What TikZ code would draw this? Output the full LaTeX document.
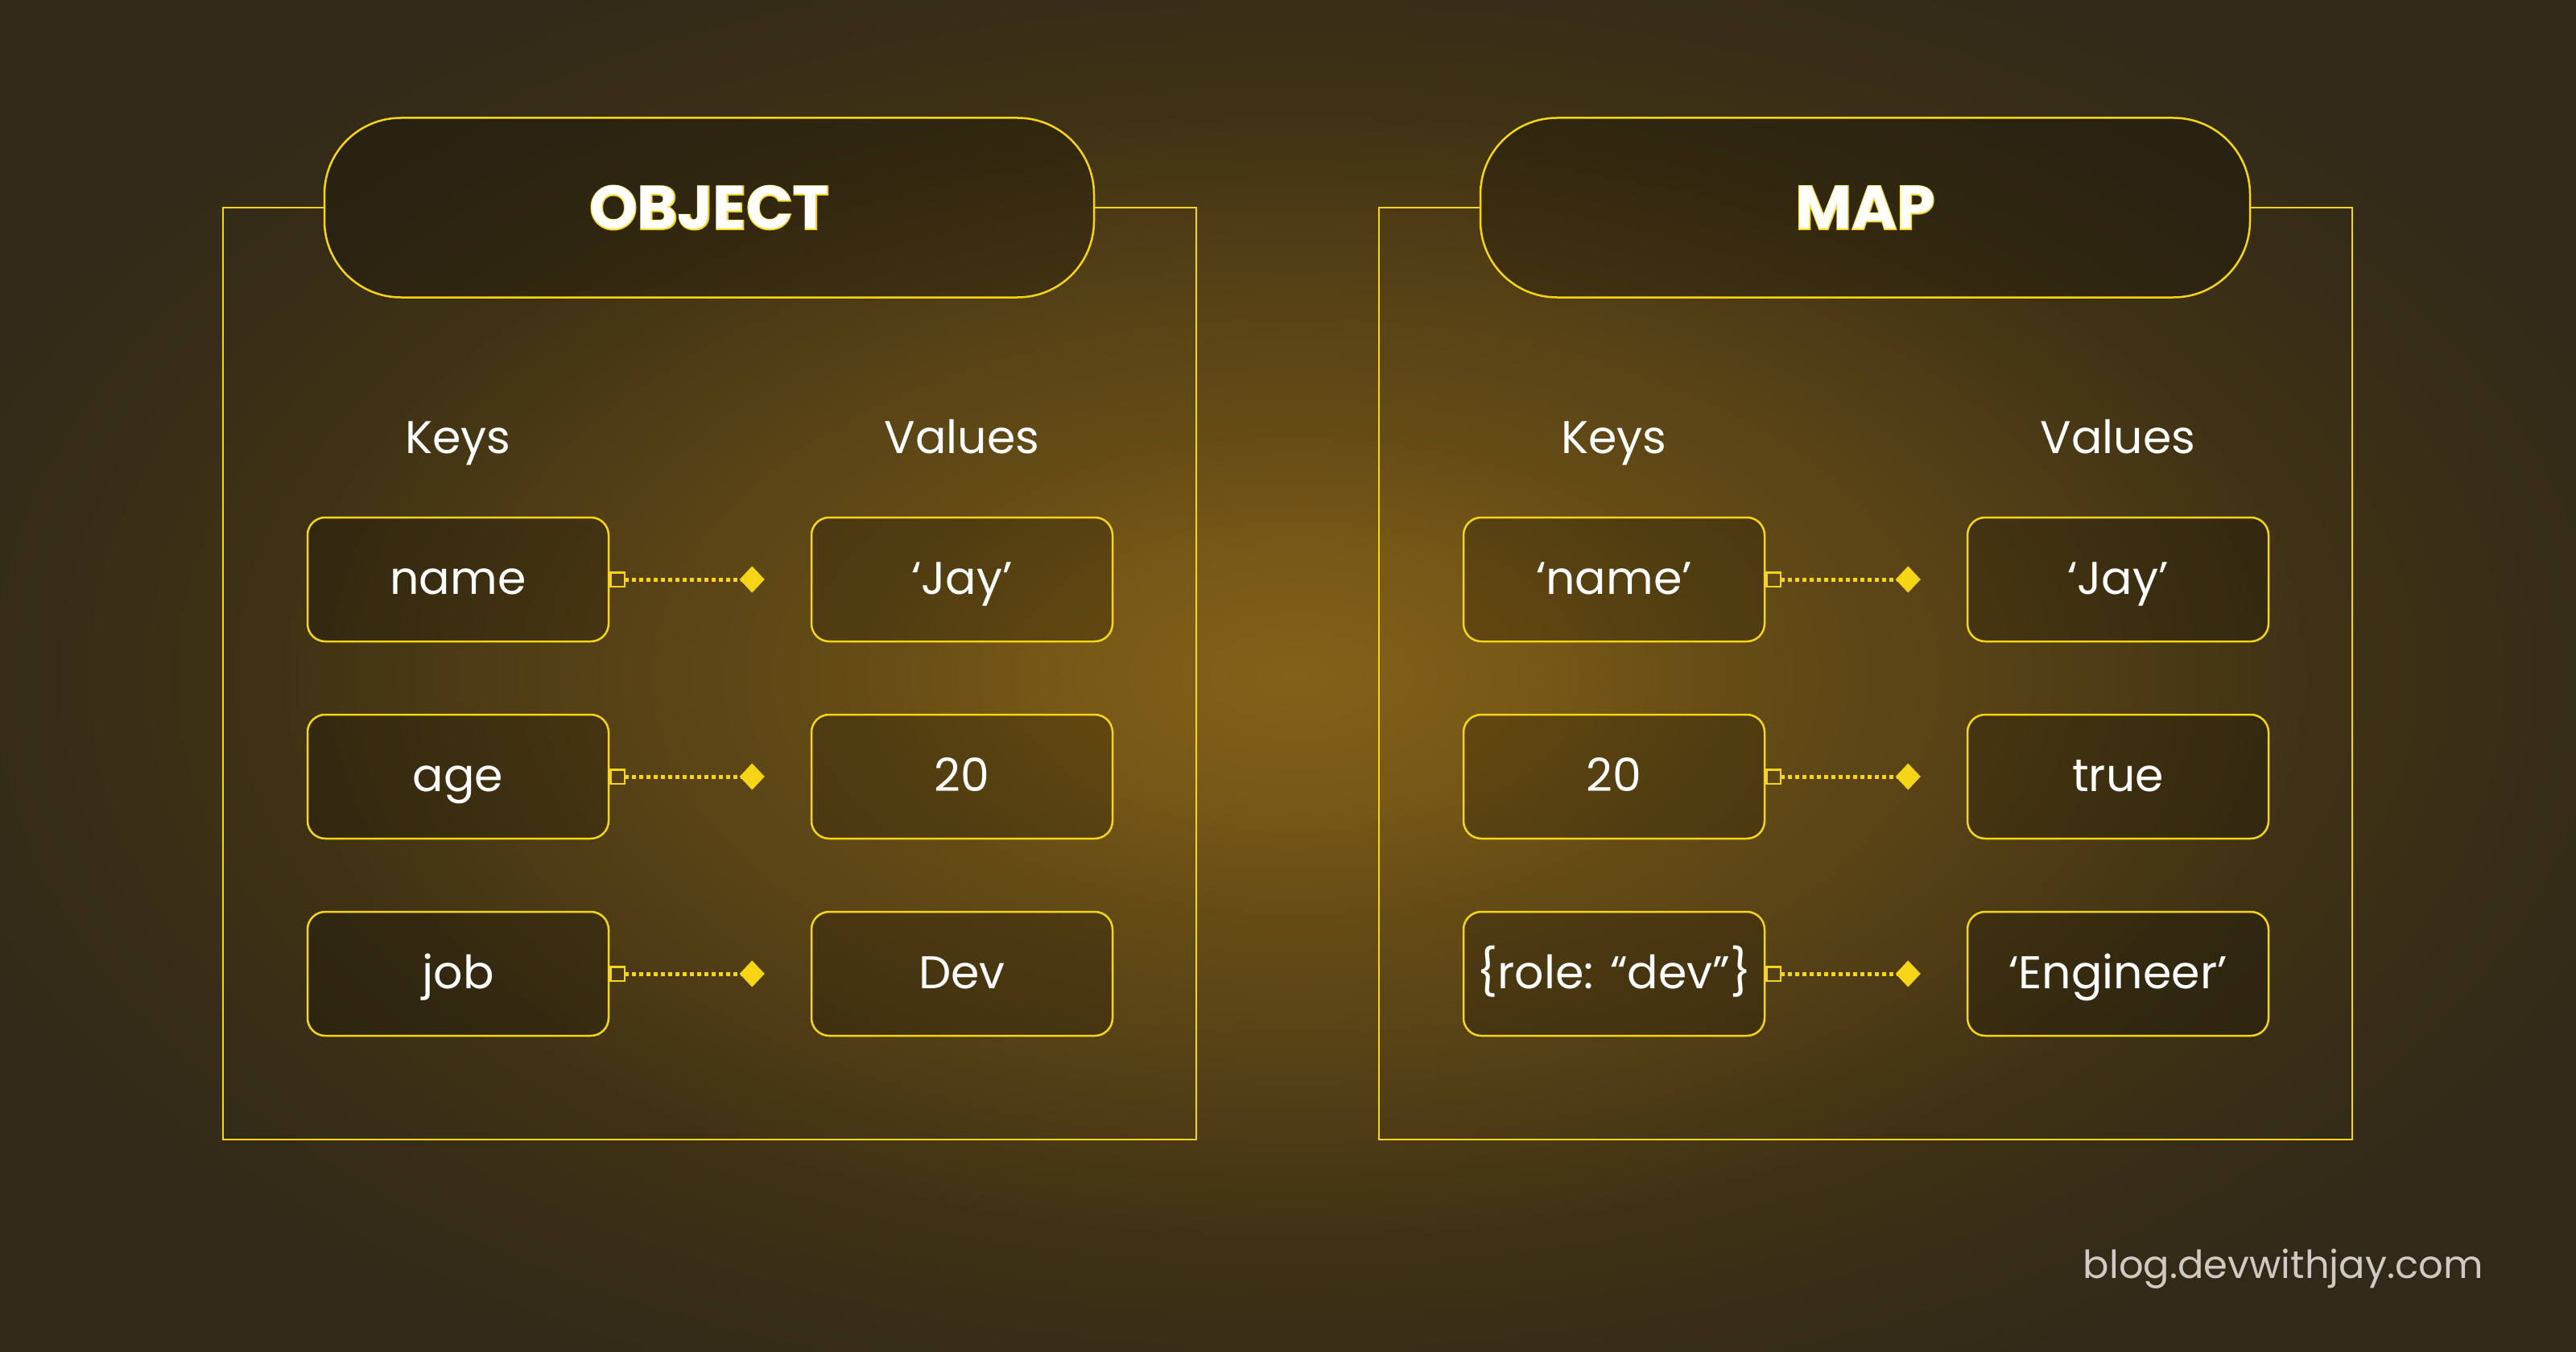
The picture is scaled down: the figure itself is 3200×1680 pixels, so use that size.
\documentclass[tikz,border=0pt]{standalone}
\usepackage{fontspec}
\setmainfont{Poppins}
\newfontfamily\edgefont{Poppins}[UprightFont=* Bold,FakeBold=3]
\usetikzlibrary{arrows.meta}
\definecolor{gold}{HTML}{F5D515}
\definecolor{glowa}{HTML}{84611A}
\definecolor{glowb}{HTML}{775816}
\definecolor{glowc}{HTML}{654C16}
\definecolor{glowd}{HTML}{574216}
\definecolor{glowe}{HTML}{3F3214}
\definecolor{glowf}{HTML}{372D17}
\definecolor{bgdark}{HTML}{312919}
\definecolor{mark}{HTML}{CFCBC3}
\pgfdeclareradialshading{glow}{\pgfpoint{0bp}{0bp}}{color(0bp)=(glowa); color(8bp)=(glowb); color(15bp)=(glowc); color(23.5bp)=(glowd); color(35bp)=(glowe); color(43bp)=(glowf); color(50bp)=(bgdark); color(100bp)=(bgdark)}
\begin{document}
\begin{tikzpicture}[x=1pt,y=-1pt,
	cell/.style={draw=gold,line width=2.5pt,rounded corners=22pt,fill=black,fill opacity=.2,text opacity=1,text=white,minimum width=374pt,minimum height=154pt,inner sep=0pt,text height=36pt,text depth=0pt,font=\fontsize{57}{60}\selectfont},
	pill/.style={draw=gold,line width=2.5pt,rounded corners=95pt,fill=black,fill opacity=.22,text opacity=1,minimum width=956pt,minimum height=223pt,inner sep=0pt,font=\fontsize{76}{80}\selectfont},
	head/.style={anchor=base,text=white,font=\fontsize{57}{60}\selectfont},
	frame/.style={draw=gold,line width=2pt},
	link/.style={gold,line width=5pt,dash pattern=on 4.5pt off 4.5pt,{Square[open,length=20pt,width=20pt,line width=2.5pt]}-{Diamond[length=31pt,width=33pt]}}]
	\useasboundingbox (0,0) rectangle (3200,1680);
	\begin{scope}
		\clip (0,0) rectangle (3200,1680);
		\pgftransformshift{\pgfpoint{1610pt}{-840pt}}
		\pgftransformxscale{36}
		\pgftransformyscale{20}
		\pgflowlevelsynccm
		\pgfuseshading{glow}
	\end{scope}
	% object
	\draw[frame] (404,258) -- (277,258) -- (277,1416) -- (1486,1416) -- (1486,258) -- (1359,258);
	\node[pill] (objtitle) at (881,258) {\edgefont\color{gold}OBJECT};
	\node[text=white,font=\fontsize{76}{80}\selectfont\bfseries] (objtext) at (objtitle.center) {OBJECT};
	\node[head] (objkeys) at (569,563) {Keys};
	\node[head] (objvals) at (1195,563) {Values};
	\node[cell] (k1) at (569,720) {name};
	\node[cell] (v1) at (1195,720) {‘Jay’};
	\node[cell] (k2) at (569,965) {age};
	\node[cell] (v2) at (1195,965) {20};
	\node[cell] (k3) at (569,1210) {job};
	\node[cell] (v3) at (1195,1210) {Dev};
	% map
	\draw[frame] (1840,258) -- (1713,258) -- (1713,1416) -- (2922,1416) -- (2922,258) -- (2795,258);
	\node[pill] (maptitle) at (2317,258) {\edgefont\color{gold}MAP};
	\node[text=white,font=\fontsize{76}{80}\selectfont\bfseries] (maptext) at (maptitle.center) {MAP};
	\node[head] (mapkeys) at (2005,563) {Keys};
	\node[head] (mapvals) at (2631,563) {Values};
	\node[cell] (m1) at (2005,720) {‘name’};
	\node[cell] (n1) at (2631,720) {‘Jay’};
	\node[cell] (m2) at (2005,965) {20};
	\node[cell] (n2) at (2631,965) {true};
	\node[cell] (m3) at (2005,1210) {\{role: “dev”\}};
	\node[cell] (n3) at (2631,1210) {‘Engineer’};
	\foreach \a/\b in {k1/v1,k2/v2,k3/v3,m1/n1,m2/n2,m3/n3}
		\draw[link] (\a.east) -- ([xshift=-57pt]\b.west);
	\node[anchor=base east,text=mark,font=\fontsize{48}{50}\selectfont] (blog) at (3088,1588) {blog.devwithjay.com};
\end{tikzpicture}
\end{document}
